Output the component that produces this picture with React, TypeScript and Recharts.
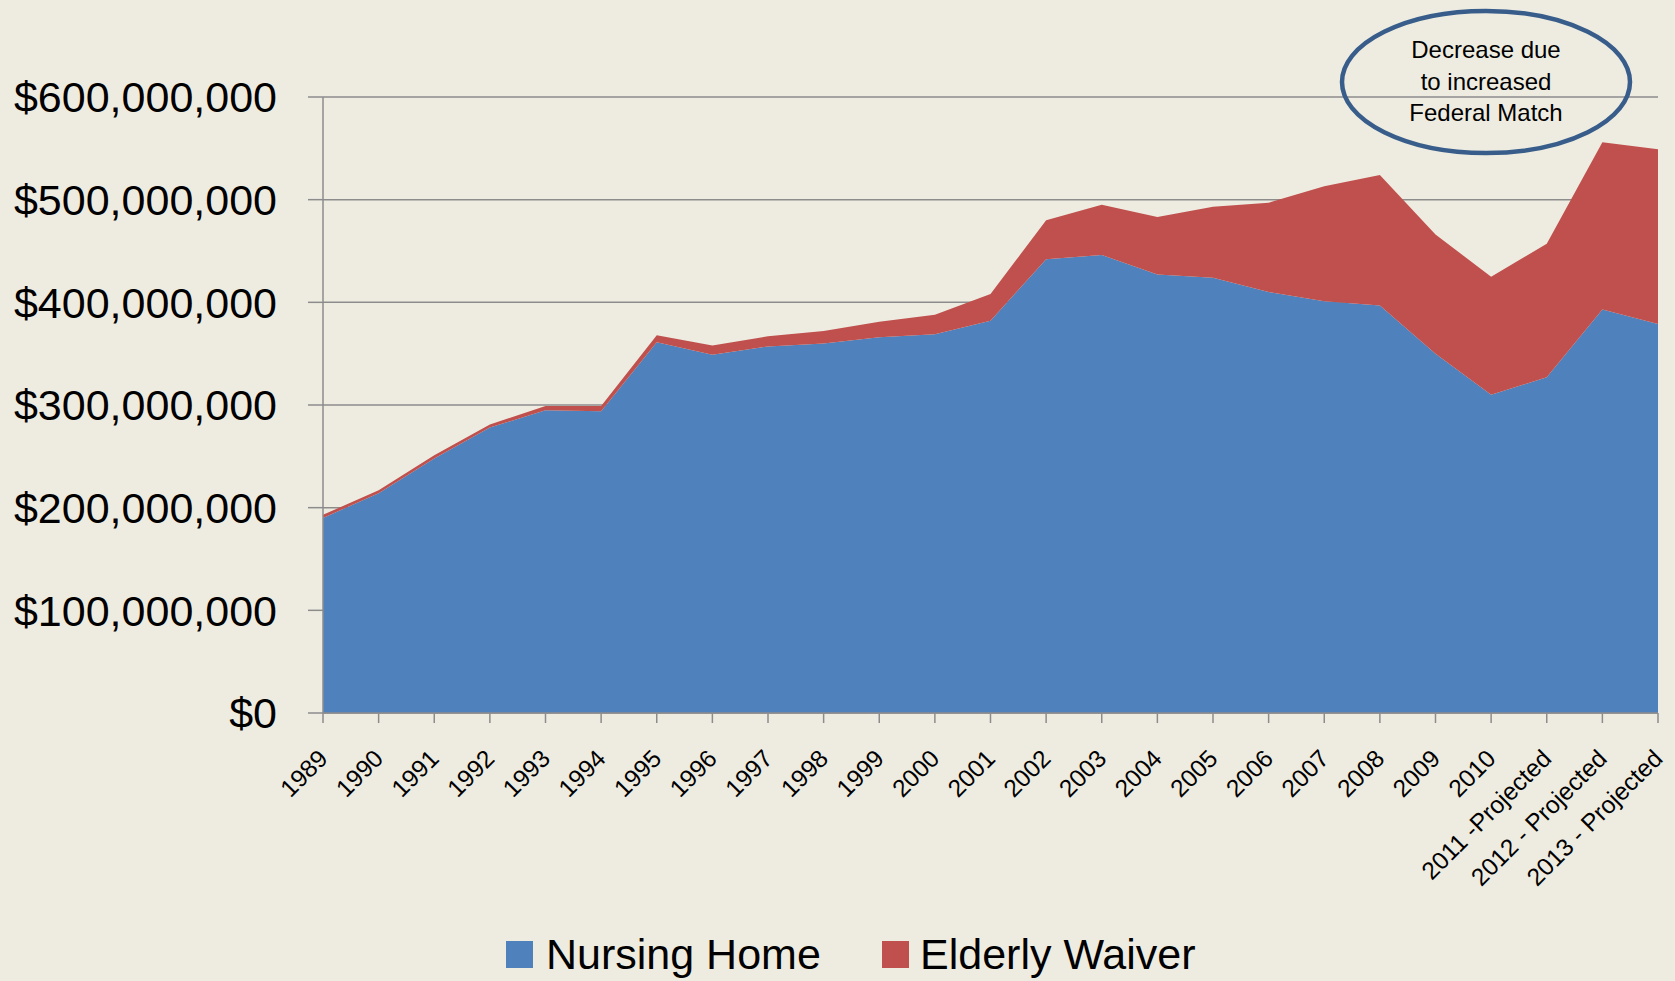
import { useMemo } from 'react';
import { AreaChart, Area, XAxis, YAxis, CartesianGrid } from 'recharts';

const years = [
  '1989', '1990', '1991', '1992', '1993', '1994', '1995', '1996', '1997',
  '1998', '1999', '2000', '2001', '2002', '2003', '2004', '2005', '2006',
  '2007', '2008', '2009', '2010', '2011 -Projected', '2012 - Projected',
  '2013 - Projected',
];

// millions of dollars
const nursingHome = [
  190, 214, 248, 278, 295, 294, 361, 349, 357, 360, 366, 369, 382, 442, 446,
  427, 424, 410, 401, 397, 350, 310, 327, 393, 379,
];

const elderlyWaiver = [
  3, 3, 3, 3, 4, 5, 7, 9, 10, 12, 15, 19, 26, 38, 49, 56, 69, 87, 112, 127,
  116, 115, 130, 163, 170,
];

const yTicks = [0, 100, 200, 300, 400, 500, 600];

const calloutLines = ['Decrease due', 'to increased', 'Federal Match'];

const BG = '#EEECE1';
const BLUE = '#4F81BD';
const RED = '#C0504D';
const GRID = '#8C8C8C';
const FONT = '"Liberation Sans", Arial, sans-serif';

const formatMoney = (v: number) => '$' + (v * 1000000).toLocaleString('en-US');

const YearTick = (props: any) => {
  const { x, y, payload } = props;
  return (
    <g transform={`translate(${x},${y + 29})`}>
      <text
        x={0}
        y={0}
        dy="0.35em"
        textAnchor="end"
        transform="rotate(-45)"
        fontSize={24.5}
        fontFamily={FONT}
        fill="#000"
      >
        {payload.value}
      </text>
    </g>
  );
};

export default function App() {
  const data = useMemo(
    () =>
      years.map((year, i) => ({
        year,
        nursing: nursingHome[i],
        waiver: elderlyWaiver[i],
      })),
    []
  );

  return (
    <div
      style={{
        position: 'absolute',
        left: 0,
        top: 0,
        width: 1675,
        height: 981,
        background: BG,
        fontFamily: FONT,
      }}
    >
      <AreaChart
        width={1675}
        height={981}
        data={data}
        margin={{ top: 97, right: 17, left: 0, bottom: 0 }}
      >
        <CartesianGrid vertical={false} stroke={GRID} strokeWidth={1.5} />
        <XAxis
          dataKey="year"
          height={268}
          interval={0}
          tickSize={10}
          tick={<YearTick />}
          stroke={GRID}
          axisLine={{ stroke: GRID, strokeWidth: 1.5 }}
          tickLine={{ stroke: GRID, strokeWidth: 1.5 }}
        />
        <YAxis
          width={323}
          domain={[0, 600]}
          ticks={yTicks}
          tickFormatter={formatMoney}
          tickSize={15}
          tickMargin={31}
          tick={{ fontSize: 43, fill: '#000', fontFamily: FONT }}
          axisLine={{ stroke: GRID, strokeWidth: 1.5 }}
          tickLine={{ stroke: GRID, strokeWidth: 1.5 }}
        />
        <Area
          type="linear"
          dataKey="nursing"
          stackId="1"
          stroke="none"
          fill={BLUE}
          fillOpacity={1}
          isAnimationActive={false}
        />
        <Area
          type="linear"
          dataKey="waiver"
          stackId="1"
          stroke="none"
          fill={RED}
          fillOpacity={1}
          isAnimationActive={false}
        />
      </AreaChart>

      {/* callout */}
      <svg
        width={1675}
        height={981}
        style={{ position: 'absolute', left: 0, top: 0, pointerEvents: 'none' }}
      >
        <ellipse cx={1486} cy={82} rx={144} ry={71} fill="none" stroke="#385D8A" strokeWidth={4.5} />
        {calloutLines.map((line, i) => (
          <text
            key={line}
            x={1486}
            y={50 + i * 31.5}
            dy="0.35em"
            textAnchor="middle"
            fontSize={24}
            fontFamily={FONT}
            fill="#000"
          >
            {line}
          </text>
        ))}
      </svg>

      {/* legend */}
      <div style={{ position: 'absolute', left: 506, top: 941, width: 27, height: 27, background: BLUE }} />
      <div style={{ position: 'absolute', left: 546, top: 929, fontSize: 43, lineHeight: '50px', color: '#000' }}>
        Nursing Home
      </div>
      <div style={{ position: 'absolute', left: 882, top: 941, width: 27, height: 27, background: RED }} />
      <div style={{ position: 'absolute', left: 920, top: 929, fontSize: 43, lineHeight: '50px', color: '#000' }}>
        Elderly Waiver
      </div>
    </div>
  );
}
